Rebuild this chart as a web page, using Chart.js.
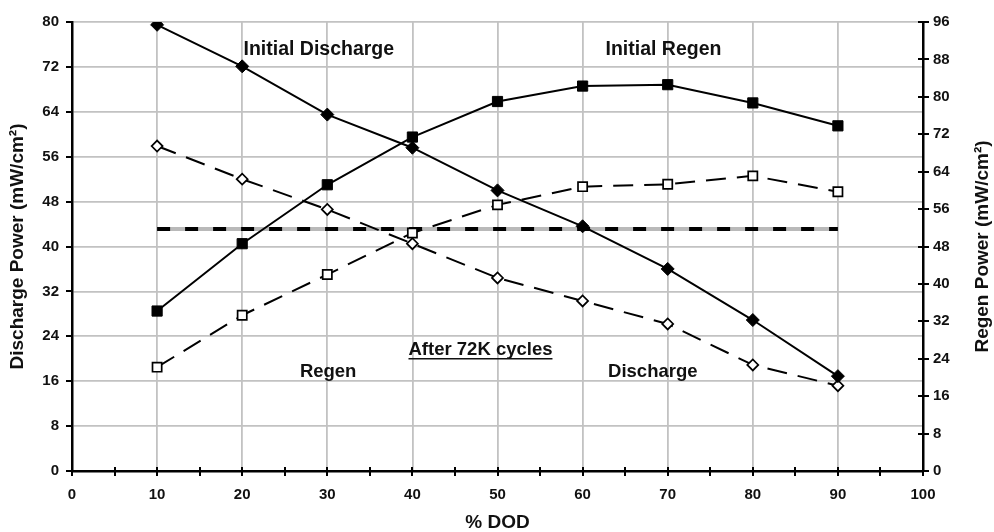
<!DOCTYPE html>
<html>
<head>
<meta charset="utf-8">
<script src="https://cdn.jsdelivr.net/npm/chart.js@4.4.1/dist/chart.umd.min.js"></script>
<style>
  html, body { margin: 0; padding: 0; background: #fff; }
  #wrap { width: 994px; height: 532px; position: relative; }
</style>
</head>
<body>
<div id="wrap"><canvas id="chart"></canvas></div>
<script>
// Depth of discharge (%)
const dod = [10, 20, 30, 40, 50, 60, 70, 80, 90];

// Discharge power, left axis (mW/cm²)
const initialDischarge = [79.5, 72.1, 63.5, 57.6, 50.0, 43.6, 36.0, 26.9, 16.9];
const cycledDischarge  = [57.9, 52.0, 46.6, 40.5, 34.4, 30.3, 26.2, 18.9, 15.2];

// Regen power, right axis (mW/cm²)
const initialRegen = [34.2, 48.6, 61.2, 71.4, 79.0, 82.3, 82.6, 78.7, 73.8];
const cycledRegen  = [22.2, 33.3, 42.0, 50.9, 56.9, 60.8, 61.3, 63.1, 59.7];

// Target level line (left axis) and its DOD extent
const targetLevel = [43.1, 43.1];
const targetSpan  = [10, 90];

// Axis ranges: min, max, step
const xRange = [0, 100, 5];
const leftRange = [0, 80, 8];
const rightRange = [0, 96, 8];

// Axis titles
const xTitle = '% DOD';
const leftTitle = 'Discharge Power (mW/cm²)';
const rightTitle = 'Regen Power (mW/cm²)';

// In-plot captions: text and position in (DOD, left-axis) units
const captionText = ['Initial Discharge', 'Initial Regen', 'After 72K cycles', 'Regen', 'Discharge'];
const captionDod  = [29.0, 69.5, 48.0, 30.1, 68.25];
const captionLvl  = [75.1, 75.1, 21.6, 17.6, 17.7];

const FONT = '"Liberation Sans", Arial, Helvetica, sans-serif';
const INK = '#111';
const GRID = '#c2c2c2';

const pts = (xs, ys) => xs.map((v, i) => ({ x: v, y: ys[i] }));

const captionStyle = [
  { size: 19.5, underline: false },
  { size: 19.5, underline: false },
  { size: 18.5, underline: true },
  { size: 18.5, underline: false },
  { size: 18.5, underline: false }
];

const tickFont = { family: FONT, size: 15, weight: 'bold' };
const titleFont = { family: FONT, size: 19, weight: 'bold' };

// Tick marks that cross the axes, the right-hand title (read bottom to top) and the captions
const axisMarks = {
  id: 'axisMarks',
  afterDraw(chart) {
    const ctx = chart.ctx;
    const { x, y, y2 } = chart.scales;
    ctx.save();
    ctx.strokeStyle = '#000';
    ctx.lineWidth = 2;
    ctx.beginPath();
    x.ticks.forEach(t => {
      const px = Math.round(x.getPixelForValue(t.value));
      ctx.moveTo(px, x.top - 4);
      ctx.lineTo(px, x.top + 5);
    });
    y.ticks.forEach(t => {
      const py = Math.round(y.getPixelForValue(t.value));
      ctx.moveTo(y.right - 6, py);
      ctx.lineTo(y.right, py);
    });
    y2.ticks.forEach(t => {
      const py = Math.round(y2.getPixelForValue(t.value));
      ctx.moveTo(y2.left - 5, py);
      ctx.lineTo(y2.left + 6, py);
    });
    ctx.stroke();

    ctx.fillStyle = INK;
    ctx.textAlign = 'center';
    ctx.textBaseline = 'middle';

    // right axis title
    ctx.save();
    ctx.font = `bold ${titleFont.size}px ${FONT}`;
    ctx.translate(y2.right - 11, (y2.top + y2.bottom) / 2);
    ctx.rotate(-Math.PI / 2);
    ctx.fillText(rightTitle, 0, 0);
    ctx.restore();

    captionText.forEach((txt, i) => {
      const st = captionStyle[i];
      ctx.font = `bold ${st.size}px ${FONT}`;
      const cx = x.getPixelForValue(captionDod[i]);
      const cy = y.getPixelForValue(captionLvl[i]);
      ctx.fillText(txt, cx, cy);
      if (st.underline) {
        const w = ctx.measureText(txt).width;
        ctx.lineWidth = 1.6;
        ctx.strokeStyle = INK;
        ctx.beginPath();
        ctx.moveTo(cx - w / 2, cy + 9);
        ctx.lineTo(cx + w / 2, cy + 9);
        ctx.stroke();
      }
    });
    ctx.restore();
  }
};

new Chart(document.getElementById('chart'), {
  type: 'line',
  data: {
    datasets: [
      {
        label: 'Initial Discharge',
        data: pts(dod, initialDischarge),
        yAxisID: 'y',
        borderColor: '#000', borderWidth: 2,
        pointStyle: 'rectRot', pointRadius: 6.5,
        pointBackgroundColor: '#000', pointBorderColor: '#000', pointBorderWidth: 1
      },
      {
        label: 'Initial Regen',
        data: pts(dod, initialRegen),
        yAxisID: 'y2',
        borderColor: '#000', borderWidth: 2,
        pointStyle: 'rect', pointRadius: 7.2,
        pointBackgroundColor: '#000', pointBorderColor: '#000', pointBorderWidth: 1
      },
      {
        label: 'Discharge after 72K cycles',
        data: pts(dod, cycledDischarge),
        yAxisID: 'y',
        borderColor: '#000', borderWidth: 2, borderDash: [20, 11],
        pointStyle: 'rectRot', pointRadius: 5.5,
        pointBackgroundColor: '#fff', pointBorderColor: '#000', pointBorderWidth: 1.7
      },
      {
        label: 'Regen after 72K cycles',
        data: pts(dod, cycledRegen),
        yAxisID: 'y2',
        borderColor: '#000', borderWidth: 2, borderDash: [20, 11],
        pointStyle: 'rect', pointRadius: 6.5,
        pointBackgroundColor: '#fff', pointBorderColor: '#000', pointBorderWidth: 1.7
      },
      {
        label: 'Target (dashes)',
        data: pts(targetSpan, targetLevel),
        yAxisID: 'y',
        borderColor: '#000', borderWidth: 4, borderDash: [13, 15],
        borderCapStyle: 'butt',
        pointRadius: 0
      },
      {
        label: 'Target (base)',
        data: pts(targetSpan, targetLevel),
        yAxisID: 'y',
        borderColor: '#b9b9b9', borderWidth: 4,
        pointRadius: 0
      }
    ]
  },
  options: {
    responsive: true,
    maintainAspectRatio: false,
    devicePixelRatio: 1,
    animation: false,
    layout: { padding: { top: 19.5, left: 0, right: 0, bottom: 0 } },
    plugins: { legend: { display: false }, tooltip: { enabled: false } },
    elements: { line: { tension: 0 } },
    scales: {
      x: {
        type: 'linear',
        min: xRange[0], max: xRange[1],
        afterFit(s) { s.height = 61; },
        ticks: {
          stepSize: xRange[2],
          color: INK, font: tickFont, padding: 15,
          maxRotation: 0, autoSkip: false,
          callback: v => (v % 10 === 0 ? String(v) : '')
        },
        grid: {
          drawTicks: false,
          lineWidth: 1.8,
          color: c => (c.tick && c.tick.value % 10 === 0 && c.tick.value > 0 && c.tick.value < 100) ? GRID : 'rgba(0,0,0,0)'
        },
        border: { display: true, color: '#000', width: 2.5 },
        title: { display: true, text: xTitle, color: INK, font: titleFont, padding: { top: 0, bottom: -2 } }
      },
      y: {
        position: 'left',
        min: leftRange[0], max: leftRange[1],
        afterFit(s) { s.width = 72; },
        ticks: { stepSize: leftRange[2], color: INK, font: tickFont, padding: 13 },
        grid: {
          drawTicks: false,
          lineWidth: 1.8,
          color: c => (c.tick && c.tick.value > 0) ? GRID : 'rgba(0,0,0,0)'
        },
        border: { display: true, color: '#000', width: 2.5 },
        title: { display: true, text: leftTitle, color: INK, font: titleFont, padding: { top: 6, bottom: 0 } }
      },
      y2: {
        position: 'right',
        min: rightRange[0], max: rightRange[1],
        afterFit(s) { s.width = 71; },
        ticks: { stepSize: rightRange[2], color: INK, font: tickFont, padding: 10 },
        grid: { display: false, drawTicks: false },
        border: { display: true, color: '#000', width: 2.5 },
        title: { display: false }
      }
    }
  },
  plugins: [axisMarks]
});
</script>
</body>
</html>
